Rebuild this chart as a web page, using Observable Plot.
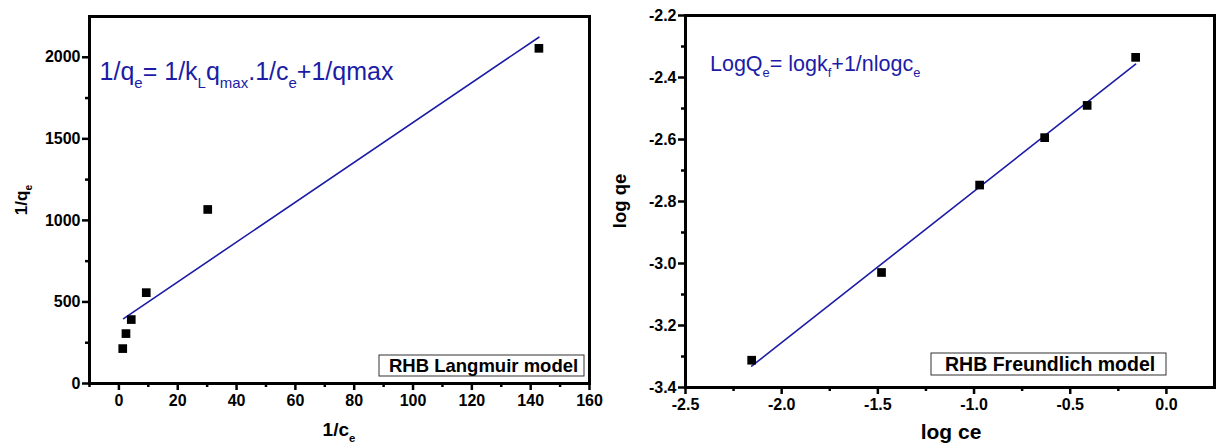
<!DOCTYPE html>
<html><head><meta charset="utf-8">
<script src="https://cdn.jsdelivr.net/npm/d3@7"></script>
<script src="https://cdn.jsdelivr.net/npm/@observablehq/plot@0.6"></script>
<style>
body{margin:0;background:#fff;}
#wrap{position:relative;width:1217px;height:443px;overflow:hidden;}
#left{position:absolute;left:0;top:0;}
#right{position:absolute;left:610px;top:0;}
#wrap svg text{font-family:"Liberation Sans", Arial, Helvetica, sans-serif;}
</style></head><body><div id="wrap"><div id="left"></div><div id="right"></div></div>
<script>
// ---- Langmuir data ----
const langX = [1.3, 2.4, 4.2, 9.3, 30.2, 142.8];
const langY = [214, 306, 392, 557, 1067, 2055];
const langFitX = [1.6, 142.8];
const langFitY = [398, 2123];
const langXTicks = [0, 20, 40, 60, 80, 100, 120, 140, 160];
const langXMinor = [-10, 10, 30, 50, 70, 90, 110, 130, 150];
const langYTicks = [0, 500, 1000, 1500, 2000];
const langYMinor = [250, 750, 1250, 1750];

// ---- Freundlich data ----
const freX = [-2.156, -1.481, -0.971, -0.633, -0.412, -0.160];
const freY = [-3.312, -3.029, -2.747, -2.594, -2.490, -2.335];
const freFitX = [-2.156, -0.160];
const freFitY = [-3.331, -2.357];
const freXTicks = [-2.5, -2.0, -1.5, -1.0, -0.5, 0.0];
const freXMinor = [-2.25, -1.75, -1.25, -0.75, -0.25];
const freYTicks = [-3.4, -3.2, -3.0, -2.8, -2.6, -2.4, -2.2];
const freYMinor = [-3.3, -3.1, -2.9, -2.7, -2.5, -2.3];

const FONT = '"Liberation Sans", Arial, Helvetica, sans-serif';
const BLUE = "#1c1ca6";

function panel(o) {
  const pts = o.px.map((x, i) => ({x, y: o.py[i]}));
  const fit = o.fx.map((x, i) => ({x, y: o.fy[i]}));
  const svg = Plot.plot({
    width: o.width, height: 443,
    marginLeft: o.ml, marginRight: o.mr, marginTop: o.mt, marginBottom: o.mb,
    style: {fontFamily: FONT, background: "white", overflow: "visible", color: "black"},
    x: {domain: o.xDomain},
    y: {domain: o.yDomain},
    marks: [
      Plot.axisX({ticks: o.xMinor, tickSize: 4, text: null, strokeWidth: 2.5, label: null}),
      Plot.axisX({ticks: o.xMajor, tickSize: 7, tickPadding: 4, tickFormat: o.xFmt, strokeWidth: 2.5, label: null}),
      Plot.axisY({ticks: o.yMinor, tickSize: 4, text: null, strokeWidth: 2.5, label: null}),
      Plot.axisY({ticks: o.yMajor, tickSize: 7, tickPadding: 2, tickFormat: o.yFmt, strokeWidth: 2.5, label: null}),
      Plot.line(fit, {x: "x", y: "y", stroke: BLUE, strokeWidth: 1.6}),
      Plot.dot(pts, {x: "x", y: "y", symbol: "square", r: 4.9, fill: "black", stroke: "none"}),
      Plot.frame({stroke: "black", strokeWidth: 3})
    ]
  });
  d3.select(svg).selectAll("text")
    .style("font-weight", "bold").style("font-size", "16px")
    .style("font-family", FONT).style("fill", "black");
  d3.select(svg).selectAll("g[aria-label*='tick'] path, g[aria-label*='tick'] line")
    .style("stroke-width", "2.5px");
  return svg;
}

function rich(svg, x, y, parts, opt) {
  const t = d3.select(svg).append("text")
    .attr("x", x).attr("y", y)
    .attr("font-family", FONT)
    .attr("font-size", opt.size)
    .attr("font-weight", opt.weight || "normal")
    .attr("fill", opt.fill || "black")
    .attr("text-anchor", opt.anchor || "start");
  if (opt.rotate) t.attr("transform", `rotate(-90 ${x} ${y})`);
  const sub = opt.size * 0.6, shift = opt.size * 0.3;
  let down = false;
  for (const [s, isSub] of parts) {
    const ts = t.append("tspan").text(s);
    if (isSub) { ts.attr("font-size", sub); if (!down) { ts.attr("dy", shift); down = true; } }
    else if (down) { ts.attr("dy", -shift); down = false; }
  }
  return t;
}

function legendBox(svg, x0, y0, w, h, label, tx, size) {
  const g = d3.select(svg).append("g");
  g.append("rect").attr("x", x0).attr("y", y0).attr("width", w).attr("height", h)
    .attr("fill", "white").attr("stroke", "#333").attr("stroke-width", 1);
  g.append("text").attr("x", tx).attr("y", y0 + h - 4)
    .attr("text-anchor", "start")
    .attr("font-family", FONT).attr("font-size", size).attr("font-weight", "bold")
    .attr("fill", "black").text(label);
}

// ---- Left panel ----
const L = panel({
  width: 610, ml: 89, mr: 21, mt: 16, mb: 60,
  xDomain: [-10, 160], yDomain: [0, 2250],
  xMajor: langXTicks, xMinor: langXMinor, yMajor: langYTicks, yMinor: langYMinor,
  xFmt: d => String(d), yFmt: d => String(d),
  px: langX, py: langY, fx: langFitX, fy: langFitY
});
document.getElementById("left").appendChild(L);
{
  const sx = L.scale("x"), sy = L.scale("y");
  rich(L, sx.apply(-6.4), sy.apply(1857),
    [["1/q", false], ["e", true], ["= 1/k", false], ["L", true], ["q", false], ["max", true],
     [".1/c", false], ["e", true], ["+1/qmax", false]],
    {size: 25, fill: BLUE});
  rich(L, 339, 436, [["1/c", false], ["e", true]], {size: 19, weight: "bold", anchor: "middle"});
  rich(L, 27, 200, [["1/q", false], ["e", true]], {size: 17, weight: "bold", anchor: "middle", rotate: true});
  legendBox(L, 379, 355, 205, 21, "RHB Langmuir model", 389, 18.5);
}

// ---- Right panel ----
const R = panel({
  width: 607, ml: 75, mr: 3, mt: 15, mb: 56,
  xDomain: [-2.5, 0.25], yDomain: [-3.4, -2.2],
  xMajor: freXTicks, xMinor: freXMinor, yMajor: freYTicks, yMinor: freYMinor,
  xFmt: d => d.toFixed(1), yFmt: d => d.toFixed(1),
  px: freX, py: freY, fx: freFitX, fy: freFitY
});
document.getElementById("right").appendChild(R);
{
  const sx = R.scale("x"), sy = R.scale("y");
  rich(R, sx.apply(-2.37), sy.apply(-2.38),
    [["LogQ", false], ["e", true], ["= logk", false], ["f", true], ["+1/nlogc", false], ["e", true]],
    {size: 21.5, fill: BLUE});
  rich(R, 341, 439, [["log ce", false]], {size: 21, weight: "bold", anchor: "middle"});
  rich(R, 16, 201, [["log qe", false]], {size: 18.5, weight: "bold", anchor: "middle", rotate: true});
  legendBox(R, 321, 353, 235, 22, "RHB Freundlich model", 335, 19.5);
}
</script></body></html>
